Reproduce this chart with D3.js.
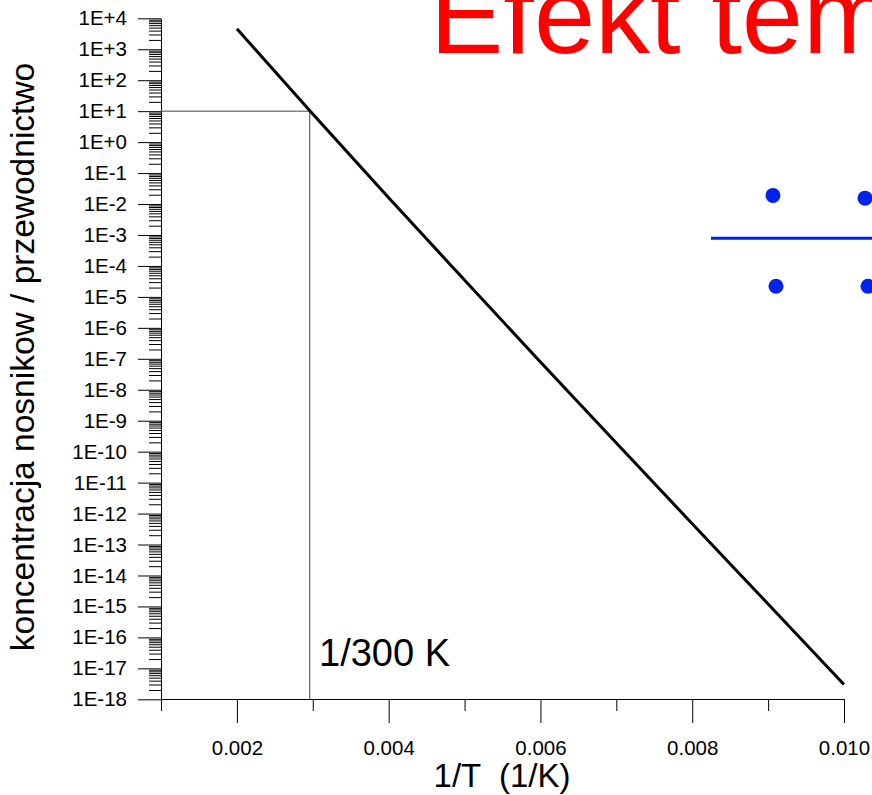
<!DOCTYPE html>
<html>
<head>
<meta charset="utf-8">
<script src="https://cdn.jsdelivr.net/npm/d3@7"></script>
<style>
  body { margin: 0; background: #fff; }
  svg { display: block; font-family: "Liberation Sans", Arial, sans-serif; }
</style>
</head>
<body>
<div id="my_dataviz"></div>
<script>
// chart values
const invT = [0.002, 0.003, 0.004, 0.005, 0.006, 0.007, 0.008, 0.009, 0.010];
const carriers = [4.6e3, 8.1, 1.6e-2, 3.5e-5, 7.9e-8, 1.9e-10, 4.7e-13, 1.2e-15, 3.0e-18];

// 1/300 K marker
const markerX = 0.00296;
const markerY = 10;

// axis ticks
const xMajorTicks = [0.002, 0.004, 0.006, 0.008, 0.010];
const xMinorTicks = [0.001, 0.003, 0.005, 0.007, 0.009];
const yDecades = d3.range(-18, 5);
const yLabels = yDecades.map((e) => "1E" + (e < 0 ? "-" : "+") + Math.abs(e));

// blue pieces in the upper right (left over from the slide)
const blueDotsX = [0.009064, 0.010277, 0.009104, 0.010316];
const blueDotsY = [1.9e-2, 1.55e-2, 2.2e-5, 2.2e-5];
const blueLineX = [0.008247, 0.0105];
const blueLineY = [7.9e-4, 7.9e-4];

const width = 872;
const height = 795;

const x = d3.scaleLinear().domain([0.001, 0.010]).range([161, 844]);
const y = d3.scaleLog().domain([1e-18, 1e4]).range([699.3, 18.3]);

const svg = d3
  .select("#my_dataviz")
  .append("svg")
  .attr("width", width)
  .attr("height", height);

// minor y ticks: 2..9 inside every decade
const yMinor = [];
yDecades.slice(0, -1).forEach((e) => {
  for (let k = 2; k < 10; k++) yMinor.push(k * Math.pow(10, e));
});

svg
  .append("g")
  .attr("transform", "translate(161,0)")
  .call(d3.axisLeft(y).tickValues(yMinor).tickSize(12).tickFormat(""))
  .call((g) => g.select(".domain").remove());

svg
  .append("g")
  .attr("transform", "translate(161,0)")
  .call(
    d3
      .axisLeft(y)
      .tickValues(yDecades.map((e) => Math.pow(10, e)))
      .tickSize(23)
      .tickSizeOuter(0)
      .tickPadding(11)
      .tickFormat((d, i) => yLabels[i])
  )
  .call((g) => g.selectAll("text").style("font-size", "20.5px").attr("fill", "#000"));

// x axis
svg
  .append("g")
  .attr("transform", "translate(0,699)")
  .call(d3.axisBottom(x).tickValues(xMinorTicks).tickSize(12).tickFormat(""))
  .call((g) => g.select(".domain").remove());

svg
  .append("g")
  .attr("transform", "translate(0,699)")
  .call(
    d3
      .axisBottom(x)
      .tickValues(xMajorTicks)
      .tickSize(24)
      .tickSizeOuter(0)
      .tickFormat(d3.format(".3f"))
  )
  .call((g) =>
    g.selectAll("text").attr("y", 56).attr("dy", 0).style("font-size", "20.5px").attr("fill", "#000")
  );

// thin guide lines to 1/300 K
svg
  .append("path")
  .attr("fill", "none")
  .attr("stroke", "#444")
  .attr("stroke-width", 1)
  .attr(
    "d",
    d3.line()([
      [x(0.001), y(markerY)],
      [x(markerX), y(markerY)],
      [x(markerX), y(1e-18)],
    ])
  );

// the curve
const line = d3
  .line()
  .x((d) => x(d[0]))
  .y((d) => y(d[1]))
  .curve(d3.curveMonotoneX);

svg
  .append("path")
  .datum(invT.map((v, i) => [v, carriers[i]]))
  .attr("fill", "none")
  .attr("stroke", "#000")
  .attr("stroke-width", 3)
  .attr("d", line);

// blue line and dots
svg
  .append("path")
  .datum(blueLineX.map((v, i) => [v, blueLineY[i]]))
  .attr("fill", "none")
  .attr("stroke", "#0022ee")
  .attr("stroke-width", 3)
  .attr("d", d3.line().x((d) => x(d[0])).y((d) => y(d[1])));

svg
  .selectAll("circle.blue")
  .data(blueDotsX.map((v, i) => [v, blueDotsY[i]]))
  .enter()
  .append("circle")
  .attr("class", "blue")
  .attr("cx", (d) => x(d[0]))
  .attr("cy", (d) => y(d[1]))
  .attr("r", 7.5)
  .attr("fill", "#0022ee");

// texts
svg
  .append("text")
  .attr("x", 319)
  .attr("y", 666)
  .style("font-size", "38px")
  .text("1/300 K");

svg
  .append("text")
  .attr("x", 502)
  .attr("y", 787)
  .attr("text-anchor", "middle")
  .style("font-size", "33px")
  .style("white-space", "pre")
  .text("1/T  (1/K)");

svg
  .append("text")
  .attr("transform", "translate(34,357) rotate(-90)")
  .attr("text-anchor", "middle")
  .style("font-size", "33.5px")
  .text("koncentracja nosnikow / przewodnictwo");

svg
  .append("text")
  .attr("x", 430)
  .attr("y", 53)
  .attr("fill", "#ff0000")
  .style("font-size", "110px")
  .text("Efekt temperaturowy");
</script>
</body>
</html>
